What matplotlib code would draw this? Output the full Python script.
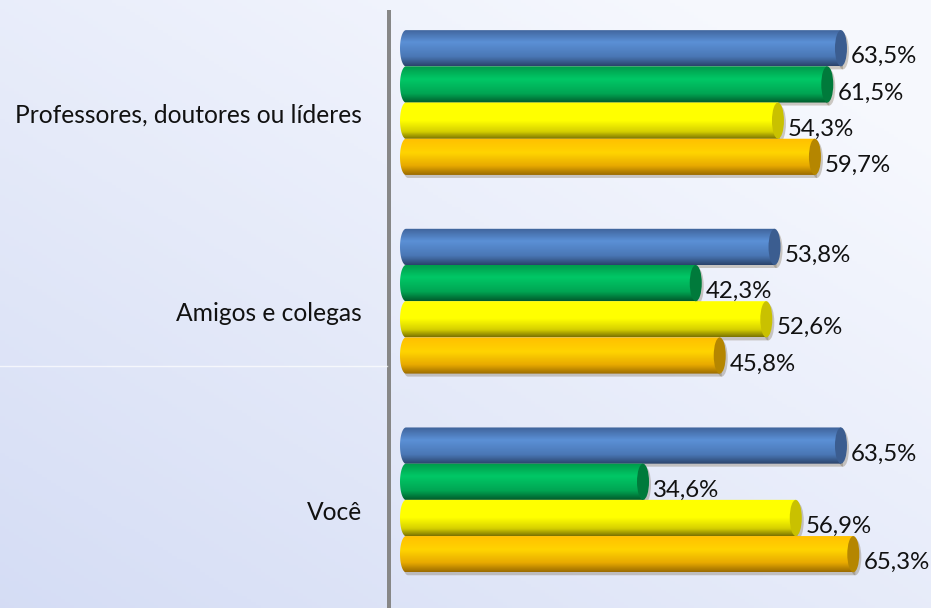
import numpy as np
import matplotlib
matplotlib.use("Agg")
import matplotlib.pyplot as plt
from matplotlib.patches import Polygon, Ellipse
from matplotlib.lines import Line2D

plt.rcParams['font.family'] = ['Lato', 'DejaVu Sans']

# data
categories = ["Professores, doutores ou líderes", "Amigos e colegas", "Você"]
series_a = [63.5, 53.8, 63.5]   # blue
series_b = [61.5, 42.3, 34.6]   # green
series_c = [54.3, 52.6, 56.9]   # yellow
series_d = [59.7, 45.8, 65.3]   # orange
series = [series_a, series_b, series_c, series_d]

# gradient stops top -> highlight -> bottom, plus end cap colour
styles = [
    dict(stops=[(0.0, "#3f639a"), (0.35, "#5b90d6"), (0.75, "#4a77b5"), (1.0, "#2b446c")], cap="#3b5d90"),
    dict(stops=[(0.0, "#00994a"), (0.35, "#00c866"), (0.75, "#00a553"), (1.0, "#005c2c")], cap="#007a3b"),
    dict(stops=[(0.0, "#ffff00"), (0.5, "#ffff00"), (0.8, "#d6d000"), (1.0, "#7c7400")], cap="#c9c100"),
    dict(stops=[(0.0, "#ffbf00"), (0.4, "#ffd400"), (0.75, "#e8aa00"), (1.0, "#9c6c00")], cap="#b58600"),
]

W, H, DPI = 931, 608, 100
fig = plt.figure(figsize=(W / DPI, H / DPI), dpi=DPI)

# background gradient
bg = fig.add_axes([0, 0, 1, 1], zorder=-10)
gx, gy = np.meshgrid(np.linspace(0, 1, 200), np.linspace(0, 1, 200))
t = np.clip(0.55 * gx + 0.6 * (1 - gy), 0, 1)   # 1 = top-right light
c0 = np.array([0.835, 0.866, 0.960])
c1 = np.array([0.965, 0.973, 0.996])
img = c0[None, None, :] * (1 - t[..., None]) + c1[None, None, :] * t[..., None]
bg.imshow(img, extent=[0, 1, 0, 1], origin='upper', aspect='auto')
bg.axis('off')
fig.add_artist(Line2D([0, 387 / W], [1 - 366 / H, 1 - 366 / H], color='white',
                      lw=1, alpha=0.7, transform=fig.transFigure))

ax_left, ax_top = 389, 12
ax = fig.add_axes([ax_left / W, 0, 1 - ax_left / W, (H - ax_top) / H])
ax.patch.set_alpha(0)

px_x = 6.85          # pixels per percent
x0_px = 406          # pixel position of 0 %
px_y = (H - ax_top) / 3.0
xmin = (ax_left - x0_px) / px_x
xmax = (W - x0_px) / px_x

bar_h = 36.2 / px_y
grp_off = -8.8 / px_y
rx = 6.0 / px_x


def gradient(stops, n=64):
    pos = [s[0] for s in stops]
    cols = np.array([matplotlib.colors.to_rgb(s[1]) for s in stops])
    tt = np.linspace(0, 1, n)
    out = np.stack([np.interp(tt, pos, cols[:, k]) for k in range(3)], axis=-1)
    return out[:, None, :]


def cylinder(v, yc, h, style):
    ang = np.linspace(np.pi / 2, 3 * np.pi / 2, 40)
    left = np.column_stack([rx * np.cos(ang), yc - (h / 2) * np.sin(ang)])
    pts = np.vstack([[v, yc - h / 2], left, [v, yc + h / 2]])
    # soft shadow
    sh = Polygon(pts + [2.0 / px_x, 3.0 / px_y], closed=True, facecolor="#6b5a3a",
                 edgecolor='none', alpha=0.3, zorder=1)
    ax.add_patch(sh)
    ax.add_patch(Ellipse((v + 2.0 / px_x, yc + 3.0 / px_y), 2 * rx, h, facecolor="#6b5a3a",
                         edgecolor='none', alpha=0.3, zorder=1))
    clip = Polygon(pts, closed=True, facecolor='none', edgecolor='none')
    ax.add_patch(clip)
    im = ax.imshow(gradient(style['stops']), extent=[-rx, v, yc + h / 2, yc - h / 2],
                   aspect='auto', interpolation='bilinear', zorder=2)
    im.set_clip_path(clip)
    ax.add_patch(Ellipse((v, yc), 2 * rx, h, facecolor=style['cap'],
                         edgecolor='none', zorder=3))


for i, cat in enumerate(categories):
    for j, vals in enumerate(series):
        v = vals[i]
        yc = i + grp_off + (j - 1.5) * bar_h
        cylinder(v, yc, bar_h, styles[j])
        ax.annotate(f"{v:.1f}%".replace('.', ','), (v, yc), xytext=(10 * 0.72, -15 * 0.72),
                    textcoords='offset points', ha='left', va='baseline',
                    fontsize=17.3, color='#111111', zorder=5)
    ax.annotate(cat, (0, i), xycoords=('axes fraction', 'data'),
                xytext=(-27 * 0.72, -11 * 0.72), textcoords='offset points',
                ha='right', va='baseline', fontsize=17.7, color='#111111')

ax.set_xlim(xmin, xmax)
ax.set_ylim(2.5, -0.5)
ax.set_xticks([])
ax.set_yticks([])
for s in ['top', 'right', 'bottom']:
    ax.spines[s].set_visible(False)
ax.spines['left'].set_color('#878787')
ax.spines['left'].set_linewidth(4 * 0.72)

fig.savefig("out.png", dpi=DPI)
